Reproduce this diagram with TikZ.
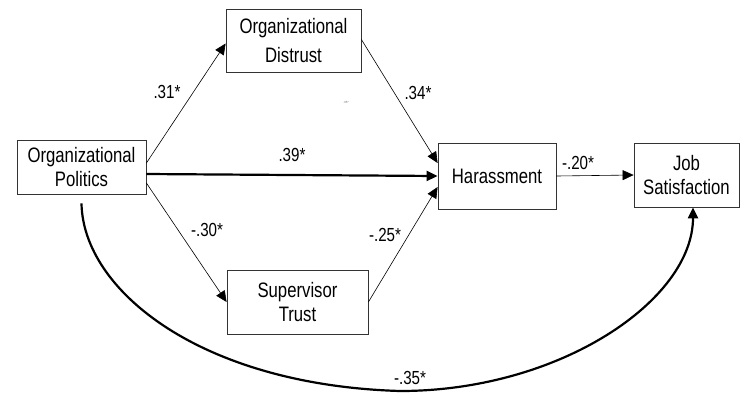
\documentclass[tikz,border=0pt]{standalone}
\usepackage{fontspec}
\setmainfont{Liberation Sans}
\newfontfamily\narrowfont[FakeStretch=0.8]{Liberation Sans}
\usepackage{tikz}
\usetikzlibrary{arrows.meta}

\tikzset{
    varbox/.style={draw=black!80, line width=0.8bp, inner sep=0pt, align=center,
        font=\narrowfont\fontsize{21}{24}\selectfont},
    coef/.style={font=\narrowfont\fontsize{19}{20}\selectfont, inner sep=0pt},
    path/.style={line width=0.6bp, -{Triangle[length=11bp,width=10bp]}},
    mainpath/.style={line width=2.2bp, -{Triangle[length=11bp,width=10bp]}}
}

\begin{document}
\begin{tikzpicture}[x=1bp,y=-1bp]
        \useasboundingbox (0,0) rectangle (744,393);

        \node[varbox, minimum width=129bp, minimum height=54bp] (pol) at (81.5,167) {Organizational\\Politics};
        \node[varbox, minimum width=135bp, minimum height=63bp] (dis) at (293.5,40.5) {Organizational\\[6bp]Distrust};
        \node[varbox, minimum width=141bp, minimum height=64bp] (sup) at (297.5,302) {Supervisor\\Trust};
        \node[varbox, minimum width=118bp, minimum height=66bp] (har) at (497,176) {Harassment};
        \node[varbox, minimum width=105bp, minimum height=64bp] (job) at (686.5,175) {Job\\Satisfaction};

        %=== Pfade ===
        \draw[path] ([yshift=4bp]pol.east) -- ([yshift=-3bp]dis.west);
        \draw[path] ([yshift=-16bp]pol.east) -- (sup.west);
        \draw[mainpath] ([yshift=-7bp]pol.east) -- (har.west);
        \draw[path] ([yshift=1bp]dis.east) -- ([yshift=13bp]har.west);
        \draw[path] (sup.east) -- ([yshift=-11bp]har.west);
        \draw[path] (har.east) -- (job.west);

        \coordinate (c0) at ([yshift=-9bp]pol.south);
        \coordinate (c1) at ([xshift=6.5bp]job.south);
        \draw[mainpath] (c0) .. controls (83,290) and (200,385) .. (400,391)
            .. controls (560,391) and (693,300) .. (c1);

        %=== Koeffizienten ===
        \node[coef] (k31) at (167,92) {.31*};
        \node[coef] (k34) at (418,93) {.34*};
        \node[coef] (k39) at (292,155) {.39*};
        \node[coef] (k20) at (578,163) {-.20*};
        \node[coef] (k30) at (207,230) {-.30*};
        \node[coef] (k25) at (385,235) {-.25*};
        \node[coef] (k35) at (410,378) {-.35*};
        \node[inner sep=0pt, font=\fontsize{3}{3}\selectfont, text=black!60] (k35b) at (346,102) {.35*};
    \end{tikzpicture}
\end{document}
